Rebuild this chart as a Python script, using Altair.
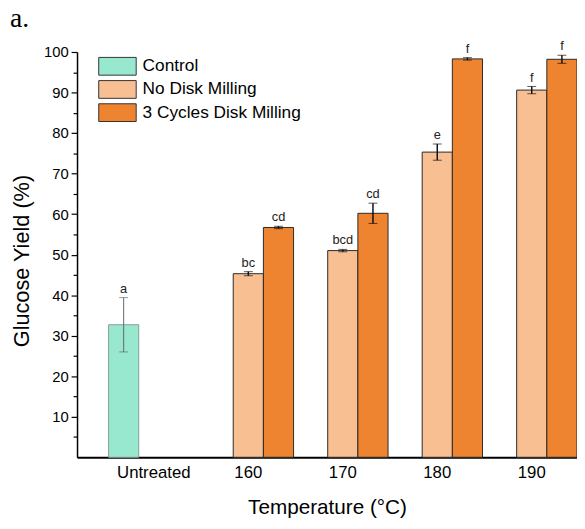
import altair as alt
import pandas as pd

categories = ["Untreated", "160", "170", "180", "190"]
series = ["Control", "No Disk Milling", "3 Cycles Disk Milling"]
colors = ["#98E8D0", "#F8BF93", "#EE8330"]

bar_category = ["Untreated", "160", "160", "170", "170", "180", "180", "190", "190"]
bar_series = ["Control",
              "No Disk Milling", "3 Cycles Disk Milling",
              "No Disk Milling", "3 Cycles Disk Milling",
              "No Disk Milling", "3 Cycles Disk Milling",
              "No Disk Milling", "3 Cycles Disk Milling"]
yield_mean = [32.7, 45.3, 56.7, 51.0, 60.2, 75.3, 98.3, 90.6, 98.2]
yield_err = [6.7, 0.5, 0.3, 0.3, 2.5, 2.0, 0.3, 0.9, 1.0]
letters = ["a", "bc", "cd", "bcd", "cd", "e", "f", "f", "f"]

major_ticks = list(range(10, 101, 10))
minor_ticks = list(range(5, 100, 10))

df = pd.DataFrame({
    "category": bar_category,
    "series": bar_series,
    "mean": yield_mean,
    "err": yield_err,
    "letter": letters,
})
df["low"] = df["mean"] - df["err"]
df["high"] = df["mean"] + df["err"]

FONT = "Liberation Sans"
y_scale = alt.Scale(domain=[0, 100], nice=False)

x_enc = alt.X(
    "category:N",
    sort=categories,
    scale=alt.Scale(domain=categories, paddingInner=0.042, paddingOuter=0.167, align=1),
    axis=alt.Axis(
        title="Temperature (°C)",
        titleFont=FONT, titleFontSize=21, titleFontWeight="normal", titleColor="black",
        titleY=57, titleBaseline="alphabetic",
        labelFont=FONT, labelFontSize=17, labelColor="black", labelAngle=0,
        labelPadding=7, ticks=False,
        domainColor="black", domainWidth=2,
    ),
)
x_plain = alt.X("category:N", sort=categories)
xoff = alt.XOffset("series:N", scale=alt.Scale(domain=series))
xoff_plain = alt.XOffset("series:N")

y_axis = alt.Axis(
    values=major_ticks, orient="left",
    tickSize=6, tickColor="black", tickWidth=1.2,
    labelFont=FONT, labelFontSize=15, labelColor="black", labelPadding=3,
    domainColor="black", domainWidth=1.5, grid=False,
    title="Glucose Yield (%)",
    titleFont=FONT, titleFontSize=22, titleFontWeight="normal", titleColor="black",
    titleX=-44, titleY=211.5, titleAlign="center", titleBaseline="bottom", titleAngle=270,
)
y_minor_axis = alt.Axis(
    values=minor_ticks, orient="left", labels=False, domain=False, grid=False,
    tickSize=4, tickColor="black", tickWidth=1.2, title=None,
)

base = alt.Chart(df)

bars = base.mark_bar(strokeWidth=1).encode(
    x=x_enc,
    xOffset=xoff,
    y=alt.Y("mean:Q", scale=y_scale, axis=y_axis),
    color=alt.Color(
        "series:N",
        scale=alt.Scale(domain=series, range=colors),
        legend=alt.Legend(
            title=None, orient="none", legendX=21.5, legendY=5,
            symbolType="M-2.11,-1L2.11,-1L2.11,1L-2.11,1Z", symbolSize=324,
            symbolOffset=10,
            symbolStrokeColor="#333", symbolStrokeWidth=1, symbolOpacity=1,
            labelFont=FONT, labelFontSize=17.5, labelColor="black", labelOffset=16,
            labelLimit=400,
            padding=0, rowPadding=0.5,
        ),
    ),
    stroke=alt.condition(alt.datum.series == "Control", alt.value("#8a9a94"), alt.value("#2a2a2a")),
)

err_color = alt.condition(alt.datum.series == "Control", alt.value("#666666"), alt.value("#111111"))

rules = base.mark_rule().encode(
    x=x_plain,
    xOffset=xoff_plain,
    y=alt.Y("low:Q", scale=y_scale, axis=y_minor_axis),
    y2="high:Q",
    color=err_color,
    strokeWidth=alt.condition(alt.datum.series == "Control", alt.value(1), alt.value(1.5)),
)

caps_low = base.mark_tick(size=9).encode(
    x=x_plain,
    xOffset=xoff_plain,
    y=alt.Y("low:Q", scale=y_scale, axis=None),
    color=err_color,
    strokeWidth=alt.condition(alt.datum.series == "Control", alt.value(1), alt.value(1.8)),
)
caps_high = base.mark_tick(size=9).encode(
    x=x_plain,
    xOffset=xoff_plain,
    y=alt.Y("high:Q", scale=y_scale, axis=None),
    color=err_color,
    strokeWidth=alt.condition(alt.datum.series == "Control", alt.value(1), alt.value(1.8)),
)

labels = base.mark_text(dy=-5, baseline="alphabetic", font=FONT, fontSize=13, color="#222").encode(
    x=x_plain,
    xOffset=xoff_plain,
    y=alt.Y("high:Q", scale=y_scale, axis=None),
    text="letter:N",
)

chart = alt.layer(bars, rules, caps_low, caps_high, labels).resolve_axis(
    y="independent"
).properties(
    width=507,
    height=411,
    title=alt.TitleParams(
        text="a.", anchor="start", frame="group", dx=-68, dy=29,
        font="Liberation Serif", fontSize=28, fontWeight="normal", color="black",
        baseline="alphabetic", offset=15,
    ),
    autosize=alt.AutoSizeParams(type="none"),
    padding={"left": 70, "top": 41, "right": 0, "bottom": 62},
    background="white",
).configure_view(stroke=None)

chart.save("out.html", embed_options={"renderer": "svg", "actions": False})
